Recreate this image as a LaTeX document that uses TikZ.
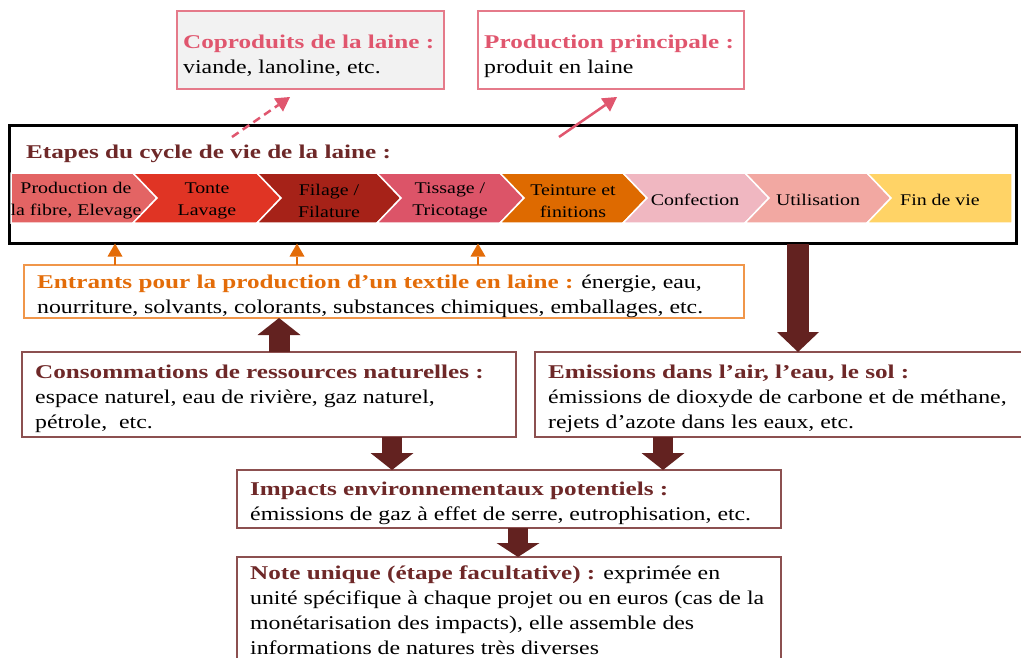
\documentclass[tikz,border=0pt]{standalone}
\usepackage{fontspec}
\setmainfont{Liberation Serif}[FakeStretch=1.22]
\newfontfamily\ttlfont{Liberation Serif}[FakeStretch=1.29]
\usetikzlibrary{arrows.meta,calc}
\definecolor{pinkT}{HTML}{E0566E}
\definecolor{pinkB}{HTML}{E57A8A}
\definecolor{copfill}{HTML}{F2F2F2}
\definecolor{maroonT}{HTML}{6E2828}
\definecolor{maroonB}{HTML}{8C5050}
\definecolor{arrowM}{HTML}{632220}
\definecolor{orangeT}{HTML}{E36C09}
\definecolor{orangeB}{HTML}{F0964A}
\definecolor{chA}{HTML}{E36464}
\definecolor{chB}{HTML}{E03424}
\definecolor{chC}{HTML}{A62218}
\definecolor{chD}{HTML}{DC5468}
\definecolor{chE}{HTML}{DE6A00}
\definecolor{chF}{HTML}{F0B7C1}
\definecolor{chG}{HTML}{F2A8A2}
\definecolor{chH}{HTML}{FFD366}
\newcommand\bodyfont{\fontsize{19.5}{25}\selectfont}
\newcommand\chevfont{\fontsize{16.3}{22}\selectfont}
\newcommand\ttl[2]{{\ttlfont\bfseries\color{#1}#2}}
\begin{document}
\begin{tikzpicture}[x=1pt,y=-1pt,
  box/.style={rectangle, inner sep=0pt, outer sep=0pt, anchor=north west},
  txt/.style={inner sep=0pt, align=left, font=\bodyfont, text=black, anchor=west},
  chevtxt/.style={inner sep=0pt, align=center, font=\chevfont, text=black},
  chev/.style={draw=white, line width=1.5pt, line join=miter},
  blockarrow/.style={draw=arrowM, line width=21pt, -{Triangle[width=43pt,length=17pt,line width=0pt]}},
  orarrow/.style={draw=orangeT, line width=2.5pt, -{Triangle[width=15pt,length=13pt,line width=0pt]}},
  pkarrow/.style={draw=pinkT, line width=2.5pt, -{Triangle[width=16pt,length=14pt,line width=0pt]}}
]
\useasboundingbox (0,0) rectangle (1021,657);
\clip (0,0) rectangle (1021,657);

% top boxes
\node[box, draw=pinkB, line width=1.2pt, fill=copfill, minimum width=267pt, minimum height=78pt] (cop) at (177,11) {};
\node[txt, yshift=-6pt] (copT) at ([xshift=6pt]cop.west) {\ttl{pinkT}{Coproduits de la laine :}\\viande, lanoline, etc.};
\node[box, draw=pinkB, line width=1.2pt, minimum width=266pt, minimum height=78pt] (prod) at (478,11) {};
\node[txt, yshift=-6pt] (prodT) at ([xshift=6pt]prod.west) {\ttl{pinkT}{Production principale :}\\produit en laine};

% frame
\node[box, draw=black, line width=3pt, minimum width=1007pt, minimum height=118pt] (frame) at (9.5,125.5) {};
\node[txt, anchor=base west] (title) at (26,158) {\ttl{maroonT}{Etapes du cycle de vie de la laine :}};

% chevrons
\path[chev, fill=chA] (11,173) -- (133,173) -- (157,198) -- (133,223) -- (11,223) -- cycle;
\path[chev, fill=chB] (133,173) -- (257,173) -- (281,198) -- (257,223) -- (133,223) -- (157,198) -- cycle;
\path[chev, fill=chC] (257,173) -- (377,173) -- (401,198) -- (377,223) -- (257,223) -- (281,198) -- cycle;
\path[chev, fill=chD] (377,173) -- (500,173) -- (524,198) -- (500,223) -- (377,223) -- (401,198) -- cycle;
\path[chev, fill=chE] (500,173) -- (623,173) -- (647,198) -- (623,223) -- (500,223) -- (524,198) -- cycle;
\path[chev, fill=chF] (623,173) -- (745,173) -- (769,198) -- (745,223) -- (623,223) -- (647,198) -- cycle;
\path[chev, fill=chG] (745,173) -- (867,173) -- (891,198) -- (867,223) -- (745,223) -- (769,198) -- cycle;
\path[chev, fill=chH] (867,173) -- (1012,173) -- (1012,223) -- (867,223) -- (891,198) -- cycle;
\node[chevtxt] (c1) at (76,201) {Production de\\la fibre, Elevage};
\node[chevtxt] (c2) at (207,201) {Tonte\\Lavage};
\node[chevtxt] (c3) at (329,201) {Filage /\\Filature};
\node[chevtxt] (c4) at (450,201) {Tissage /\\Tricotage};
\node[chevtxt] (c5) at (573,201) {Teinture et\\finitions};
\node[chevtxt] (c6) at (695,200) {Confection};
\node[chevtxt] (c7) at (818,200) {Utilisation};
\node[chevtxt] (c8) at (940,200) {Fin de vie};

% pink arrows to top boxes
\coordinate (p1s) at (232,137);
\coordinate (p1e) at (290,97);
\coordinate (p2s) at (559,137);
\coordinate (p2e) at (617,97);
\draw[pkarrow, dash pattern=on 8pt off 5pt] (p1s) -- (p1e);
\draw[pkarrow] (p2s) -- (p2e);

% entrants
\node[box, draw=orangeB, line width=1.2pt, minimum width=720pt, minimum height=53pt] (ent) at (24,265) {};
\node[txt, yshift=-5pt] (entT) at ([xshift=13pt]ent.west) {\ttl{orangeT}{Entrants pour la production d’un textile en laine :} énergie, eau,\\nourriture, solvants, colorants, substances chimiques, emballages, etc.};
\coordinate (o1) at (115,0);
\coordinate (o2) at (297,0);
\coordinate (o3) at (478,0);
\draw[orarrow] (ent.north -| o1) -- (frame.south -| o1);
\draw[orarrow] (ent.north -| o2) -- (frame.south -| o2);
\draw[orarrow] (ent.north -| o3) -- (frame.south -| o3);

% consommations
\node[box, draw=maroonB, line width=1.4pt, minimum width=494pt, minimum height=85pt] (cons) at (22,352) {};
\node[txt, yshift=-4pt] (consT) at ([xshift=13pt]cons.west) {\ttl{maroonT}{Consommations de ressources naturelles :}\\espace naturel, eau de rivière, gaz naturel,\\pétrole,~ etc.};
% emissions
\node[box, draw=maroonB, line width=1.4pt, minimum width=500pt, minimum height=85pt] (emi) at (535,352) {};
\node[txt, yshift=-4pt] (emiT) at ([xshift=13pt]emi.west) {\ttl{maroonT}{Emissions dans l’air, l’eau, le sol :}\\émissions de dioxyde de carbone et de méthane,\\rejets d’azote dans les eaux, etc.};
% impacts
\node[box, draw=maroonB, line width=1.4pt, minimum width=544pt, minimum height=58pt] (imp) at (237,470) {};
\node[txt, yshift=-4pt] (impT) at ([xshift=13pt]imp.west) {\ttl{maroonT}{Impacts environnementaux potentiels :}\\émissions de gaz à effet de serre, eutrophisation, etc.};
% note
\node[box, draw=maroonB, line width=1.4pt, minimum width=544pt, minimum height=130pt] (note) at (237,557) {};
\node[txt, anchor=north west] (noteT) at (250,565.5) {\ttl{maroonT}{Note unique (étape facultative) :} exprimée en\\unité spécifique à chaque projet ou en euros (cas de la\\monétarisation des impacts), elle assemble des\\informations de natures très diverses};

% block arrows
\coordinate (a1) at (279,0);
\coordinate (a2) at (798,0);
\coordinate (a3) at (392,0);
\coordinate (a4) at (663,0);
\coordinate (a5) at (518,0);
\draw[blockarrow] (cons.north -| a1) -- (ent.south -| a1);
\draw[blockarrow, line width=22pt, -{Triangle[width=42pt,length=20pt,line width=0pt]}] (frame.south -| a2) -- (emi.north -| a2);
\draw[blockarrow, line width=20pt] (cons.south -| a3) -- (imp.north -| a3);
\draw[blockarrow, line width=20pt] (emi.south -| a4) -- (imp.north -| a4);
\draw[blockarrow, line width=20pt, -{Triangle[width=43pt,length=14pt,line width=0pt]}] (imp.south -| a5) -- (note.north -| a5);
\end{tikzpicture}
\end{document}
